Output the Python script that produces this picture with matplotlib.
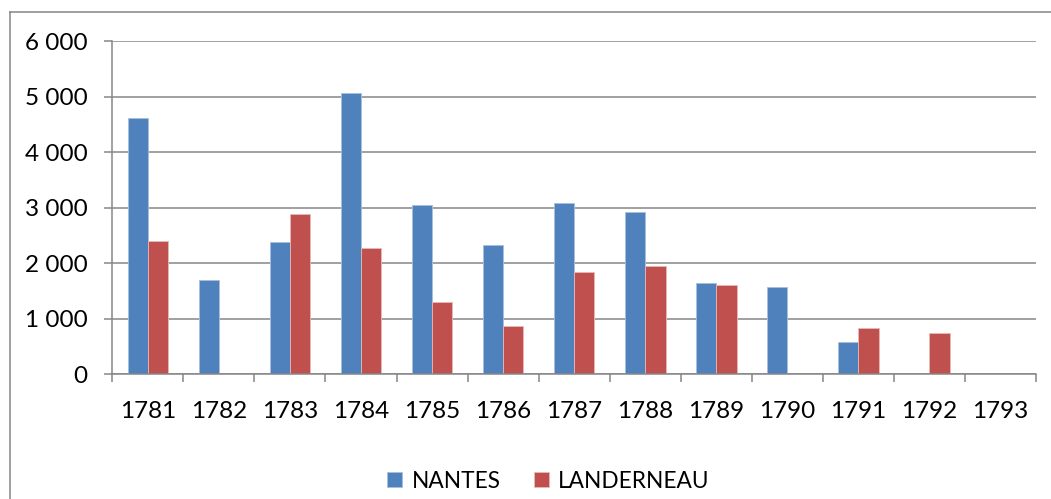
import numpy as np
import matplotlib
matplotlib.use('Agg')
import matplotlib.pyplot as plt
from matplotlib.lines import Line2D
from matplotlib.ticker import FixedLocator

years = ['1781', '1782', '1783', '1784', '1785', '1786', '1787',
         '1788', '1789', '1790', '1791', '1792', '1793']
nantes = [4620, 1700, 2385, 5065, 3050, 2330, 3090, 2930, 1650, 1565, 575, 0, 0]
landerneau = [2400, 0, 2890, 2265, 1310, 875, 1845, 1945, 1605, 0, 835, 740, 0]
y_ticks = [0, 1000, 2000, 3000, 4000, 5000, 6000]
y_labels = ['0', '1 000', '2 000', '3 000', '4 000', '5 000', '6 000']

plt.rcParams['font.family'] = ['Lato', 'DejaVu Sans']

blue = '#4F81BD'
red = '#C0504D'
grey = '#868686'
fs = 17.5

fig = plt.figure(figsize=(10.51, 4.99), dpi=100, facecolor='w')
ax = fig.add_axes([112.3 / 1051, 1 - 374.3 / 499, (1036 - 112.3) / 1051, (374.3 - 41) / 499])

x = np.arange(len(years))
w = 1 / 3.5
ax.bar(x - w / 2, nantes, w, color=blue, edgecolor='#A7BFDE', lw=0.6, label='NANTES', zorder=3)
ax.bar(x + w / 2, landerneau, w, color=red, edgecolor='#E6B9B8', lw=0.6, label='LANDERNEAU', zorder=3)

ax.set_xlim(-0.5, len(years) - 0.5)
ax.set_ylim(0, 6000)
ax.set_yticks(y_ticks)
ax.set_yticklabels(y_labels, fontsize=fs)
ax.set_xticks(x)
ax.set_xticklabels(years, fontsize=fs)
ax.xaxis.set_minor_locator(FixedLocator(np.arange(-0.5, len(years), 1)))
ax.tick_params(axis='x', which='major', length=0, pad=19)
ax.tick_params(axis='x', which='minor', length=5.5, width=1.1, color=grey)
ax.tick_params(axis='y', length=6, width=1.1, color=grey, pad=12)

ax.grid(axis='y', color=grey, lw=1.1, zorder=0)
ax.set_axisbelow(True)
for s in ('top', 'right'):
    ax.spines[s].set_visible(False)
for s in ('left', 'bottom'):
    ax.spines[s].set_color(grey)
    ax.spines[s].set_linewidth(1.1)
    ax.spines[s].set_zorder(4)

# outer chart frame (runs off the right and bottom of the picture)
fig.add_artist(Line2D([10 / 1051, 1.0], [1 - 12 / 499, 1 - 12 / 499],
                      transform=fig.transFigure, color=grey, lw=1.1))
fig.add_artist(Line2D([10 / 1051, 10 / 1051], [0, 1 - 12 / 499],
                      transform=fig.transFigure, color=grey, lw=1.1))

fig.legend(loc='center', bbox_to_anchor=(0.522, 0.036), ncol=2, frameon=False,
           fontsize=16.3, handlelength=0.66, handleheight=0.66, handletextpad=0.4,
           columnspacing=1.5)

fig.savefig('out.png', dpi=100)
